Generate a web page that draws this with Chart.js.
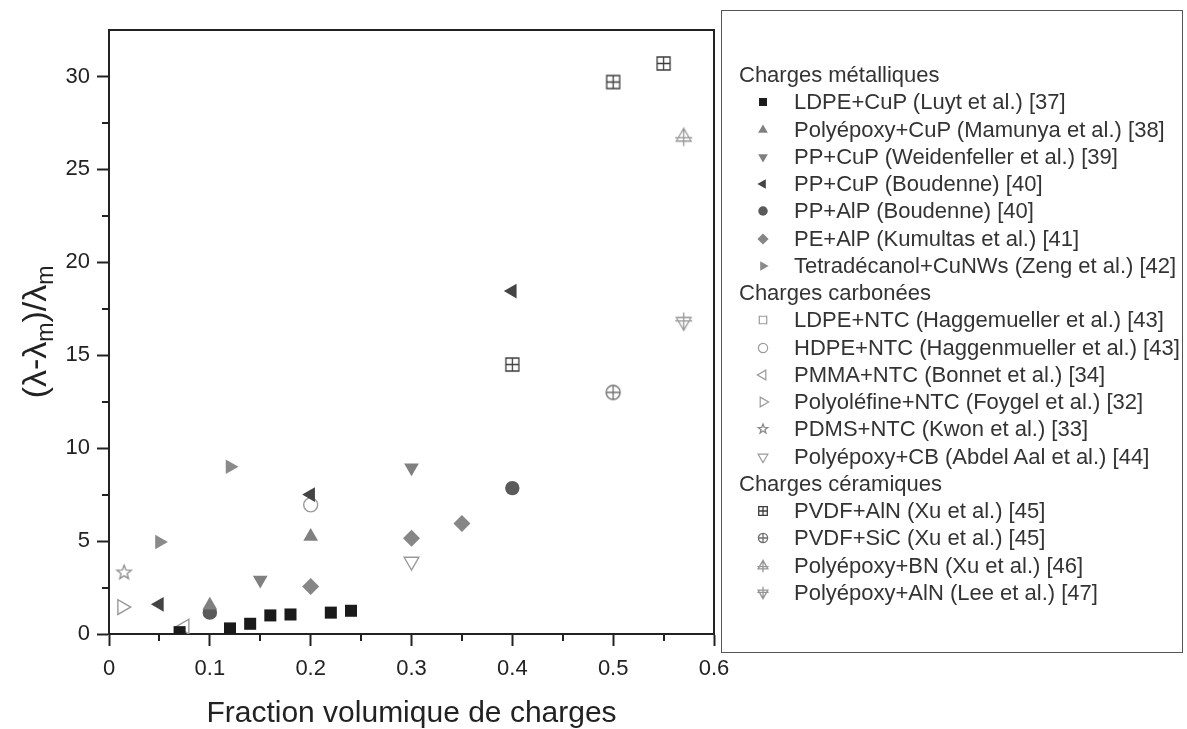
<!DOCTYPE html>
<html>
<head>
<meta charset="utf-8">
<script src="https://cdn.jsdelivr.net/npm/chart.js@4.4.0/dist/chart.umd.min.js"></script>
<style>
    html, body { margin: 0; padding: 0; background: #fff; }
    #wrap { position: relative; width: 1187px; height: 729px; overflow: hidden; }
    #chart { position: absolute; left: 0; top: 0; }
    #legend {
        position: absolute; left: 721px; top: 10px; width: 462px; height: 643px;
        box-sizing: border-box; border: 1.5px solid #555;
        font-family: "Liberation Sans", Arial, sans-serif; font-size: 22px; color: #333;
        padding-top: 50px;
    }
    .row { position: relative; height: 27.26px; line-height: 27.26px; white-space: nowrap; }
    .row.head { padding-left: 17px; }
    .row canvas { position: absolute; left: 30px; top: 3px; }
    .row .lbl { position: absolute; left: 72px; }
</style>
</head>
<body>
<div id="wrap">
    <canvas id="chart" width="1187" height="729"></canvas>
    <div id="legend"></div>
</div>
<script>
// ---- axes / ticks ----
const xMin = 0, xMax = 0.6, xStep = 0.1;
const yMin = 0, yMax = 32.5, yStep = 5;
const xMinorTicks = [0.05, 0.15, 0.25, 0.35, 0.45, 0.55];
const yMinorTicks = [2.5, 7.5, 12.5, 17.5, 22.5, 27.5];
const xTitle = 'Fraction volumique de charges';

// ---- groups ----
const groupTitles = ['Charges métalliques', 'Charges carbonées', 'Charges céramiques'];

// ---- series (x = fraction volumique, y = (λ-λm)/λm) ----
const luytX = [0.07, 0.12, 0.14, 0.16, 0.18, 0.22, 0.24];
const luytY = [0.1, 0.3, 0.55, 1.0, 1.05, 1.15, 1.25];
const mamunyaX = [0.1, 0.2];
const mamunyaY = [1.55, 5.25];
const weidenfellerX = [0.15, 0.3];
const weidenfellerY = [2.9, 8.95];
const boudenneCuX = [0.05, 0.2, 0.4];
const boudenneCuY = [1.6, 7.5, 18.45];
const boudenneAlX = [0.1, 0.4];
const boudenneAlY = [1.15, 7.85];
const kumultasX = [0.2, 0.3, 0.35];
const kumultasY = [2.55, 5.15, 5.95];
const zengX = [0.05, 0.12];
const zengY = [4.95, 9.0];
const haggLdpeX = [];
const haggLdpeY = [];
const haggHdpeX = [0.2];
const haggHdpeY = [6.95];
const bonnetX = [0.075];
const bonnetY = [0.4];
const foygelX = [0.013];
const foygelY = [1.45];
const kwonX = [0.015];
const kwonY = [3.3];
const abdelX = [0.3];
const abdelY = [3.9];
const xuAlnX = [0.4, 0.5, 0.55];
const xuAlnY = [14.5, 29.7, 30.7];
const xuSicX = [0.5];
const xuSicY = [13.0];
const xuBnX = [0.57];
const xuBnY = [26.75];
const leeX = [0.57];
const leeY = [16.8];

const seriesLabels = [
    'LDPE+CuP (Luyt et al.) [37]',
    'Polyépoxy+CuP (Mamunya et al.) [38]',
    'PP+CuP (Weidenfeller et al.) [39]',
    'PP+CuP (Boudenne) [40]',
    'PP+AlP (Boudenne) [40]',
    'PE+AlP (Kumultas et al.) [41]',
    'Tetradécanol+CuNWs (Zeng et al.) [42]',
    'LDPE+NTC (Haggemueller et al.) [43]',
    'HDPE+NTC (Haggenmueller et al.) [43]',
    'PMMA+NTC (Bonnet et al.) [34]',
    'Polyoléfine+NTC (Foygel et al.) [32]',
    'PDMS+NTC (Kwon et al.) [33]',
    'Polyépoxy+CB (Abdel Aal et al.) [44]',
    'PVDF+AlN (Xu et al.) [45]',
    'PVDF+SiC (Xu et al.) [45]',
    'Polyépoxy+BN (Xu et al.) [46]',
    'Polyépoxy+AlN (Lee et al.) [47]'
];
const seriesX = [luytX, mamunyaX, weidenfellerX, boudenneCuX, boudenneAlX, kumultasX, zengX,
    haggLdpeX, haggHdpeX, bonnetX, foygelX, kwonX, abdelX, xuAlnX, xuSicX, xuBnX, leeX];
const seriesY = [luytY, mamunyaY, weidenfellerY, boudenneCuY, boudenneAlY, kumultasY, zengY,
    haggLdpeY, haggHdpeY, bonnetY, foygelY, kwonY, abdelY, xuAlnY, xuSicY, xuBnY, leeY];
const seriesGroup = [0, 0, 0, 0, 0, 0, 0, 1, 1, 1, 1, 1, 1, 2, 2, 2, 2];

// ---- styles: [forme, rotation, couleur, rempli, rayon] ----
const seriesStyle = [
    ['rect', 0, '#1a1a1a', true, 8.5],
    ['triangle', 0, '#808080', true, 8.5],
    ['triangle', 180, '#808080', true, 8.5],
    ['triangle', -90, '#444444', true, 8.5],
    ['circle', 0, '#5a5a5a', true, 7.2],
    ['rectRot', 0, '#868686', true, 8.5],
    ['triangle', 90, '#8a8a8a', true, 8.5],
    ['rect', 0, '#9a9a9a', false, 8],
    ['circle', 0, '#9a9a9a', false, 7],
    ['triangle', -90, '#9a9a9a', false, 8.5],
    ['triangle', 90, '#9a9a9a', false, 8.5],
    ['star5', 0, '#8a8a8a', false, 7.5],
    ['triangle', 180, '#9a9a9a', false, 8.5],
    ['squareCross', 0, '#3c3c3c', false, 6.5],
    ['circleCross', 0, '#707070', false, 7],
    ['triUpCross', 0, '#959595', false, 8.5],
    ['triDownCross', 0, '#959595', false, 8.5]
];

const FONT = '"Liberation Sans", Arial, sans-serif';

// Dessin des symboles qui n'existent pas dans Chart.js
function drawCustom(ctx, kind, cx, cy, r, color) {
    ctx.strokeStyle = color;
    ctx.lineWidth = 1.3;
    ctx.beginPath();
    if (kind === 'star5') {
        for (let i = 0; i < 10; i++) {
            const rr = i % 2 ? r * 0.42 : r;
            const a = -Math.PI / 2 + i * Math.PI / 5;
            const px = cx + rr * Math.cos(a), py = cy + rr * Math.sin(a);
            i ? ctx.lineTo(px, py) : ctx.moveTo(px, py);
        }
        ctx.closePath();
    } else if (kind === 'squareCross') {
        ctx.rect(cx - r, cy - r, 2 * r, 2 * r);
        ctx.moveTo(cx - r, cy); ctx.lineTo(cx + r, cy);
        ctx.moveTo(cx, cy - r); ctx.lineTo(cx, cy + r);
    } else if (kind === 'circleCross') {
        ctx.arc(cx, cy, r, 0, Math.PI * 2);
        ctx.moveTo(cx - r, cy); ctx.lineTo(cx + r, cy);
        ctx.moveTo(cx, cy - r); ctx.lineTo(cx, cy + r);
    } else if (kind === 'triUpCross' || kind === 'triDownCross') {
        const s = kind === 'triUpCross' ? 1 : -1;
        const h = r * 0.87;
        ctx.moveTo(cx, cy - s * r);
        ctx.lineTo(cx + h, cy + s * r * 0.5);
        ctx.lineTo(cx - h, cy + s * r * 0.5);
        ctx.closePath();
        ctx.moveTo(cx - r, cy + s * r * 0.1); ctx.lineTo(cx + r, cy + s * r * 0.1);
        ctx.moveTo(cx, cy - s * r * 1.1); ctx.lineTo(cx, cy + s * r * 1.1);
    }
    ctx.stroke();
}

function makeMarker(kind, r, color) {
    const c = document.createElement('canvas');
    const size = Math.ceil(r * 2 + 6);
    c.width = size; c.height = size;
    drawCustom(c.getContext('2d'), kind, size / 2, size / 2, r, color);
    return c;
}

const isCustom = k => ['star5', 'squareCross', 'circleCross', 'triUpCross', 'triDownCross'].includes(k);

const datasets = seriesLabels.map((label, i) => {
    const [kind, rot, color, filled, r] = seriesStyle[i];
    return {
        label: label,
        data: seriesX[i].map((x, j) => ({ x: x, y: seriesY[i][j] })),
        pointStyle: isCustom(kind) ? makeMarker(kind, r, color) : kind,
        rotation: rot,
        pointRadius: r,
        pointHoverRadius: r,
        backgroundColor: filled ? color : 'rgba(255,255,255,0)',
        borderColor: color,
        borderWidth: filled ? 0 : 1.4,
        showLine: false
    };
});

// Cadre haut/droite, petites graduations et titre de l'axe Y
const framePlugin = {
    id: 'frame',
    afterDraw(chart) {
        const { ctx, chartArea } = chart;
        const xs = chart.scales.x, ys = chart.scales.y;
        ctx.save();
        ctx.strokeStyle = '#222';
        ctx.lineWidth = 2;
        ctx.beginPath();
        ctx.moveTo(chartArea.left - 1, chartArea.top);
        ctx.lineTo(chartArea.right, chartArea.top);
        ctx.lineTo(chartArea.right, chartArea.bottom);
        ctx.stroke();

        ctx.beginPath();
        xMinorTicks.forEach(v => {
            const px = Math.round(xs.getPixelForValue(v));
            ctx.moveTo(px, chartArea.bottom);
            ctx.lineTo(px, chartArea.bottom + 7);
        });
        yMinorTicks.forEach(v => {
            const py = Math.round(ys.getPixelForValue(v));
            ctx.moveTo(chartArea.left, py);
            ctx.lineTo(chartArea.left - 7, py);
        });
        ctx.stroke();

        // (λ-λm)/λm
        const parts = [['(λ-λ', 0], ['m', 1], [')/λ', 0], ['m', 1]];
        const big = '34px ' + FONT, small = '23px ' + FONT;
        let total = 0;
        parts.forEach(p => { ctx.font = p[1] ? small : big; total += ctx.measureText(p[0]).width; });
        ctx.translate(46, (chartArea.top + chartArea.bottom) / 2);
        ctx.rotate(-Math.PI / 2);
        ctx.fillStyle = '#222';
        ctx.textBaseline = 'alphabetic';
        let x = -total / 2;
        parts.forEach(p => {
            ctx.font = p[1] ? small : big;
            ctx.fillText(p[0], x, p[1] ? 7 : 0);
            x += ctx.measureText(p[0]).width;
        });
        ctx.restore();
    }
};

new Chart(document.getElementById('chart'), {
    type: 'scatter',
    data: { datasets: datasets },
    options: {
        responsive: false,
        animation: false,
        devicePixelRatio: 1,
        layout: { padding: { left: 0, top: 30, right: 1187 - 714, bottom: 0 } },
        plugins: { legend: { display: false }, tooltip: { enabled: false } },
        scales: {
            x: {
                type: 'linear', min: xMin, max: xMax,
                border: { color: '#222', width: 2 },
                grid: { drawOnChartArea: false, drawTicks: true, tickLength: 12, tickWidth: 2, tickColor: '#222' },
                ticks: { stepSize: xStep, includeBounds: false, padding: 10, color: '#222',
                         font: { family: FONT, size: 22 }, maxRotation: 0 },
                title: { display: true, text: xTitle, color: '#222',
                         font: { family: FONT, size: 30, lineHeight: 1 }, padding: { top: 0, bottom: 0 } },
                afterFit(s) { s.height = 95; s.paddingLeft = 0; s.paddingRight = 0; }
            },
            y: {
                type: 'linear', min: yMin, max: yMax,
                border: { color: '#222', width: 2 },
                grid: { drawOnChartArea: false, drawTicks: true, tickLength: 12, tickWidth: 2, tickColor: '#222' },
                ticks: { stepSize: yStep, includeBounds: false, padding: 7, color: '#222',
                         font: { family: FONT, size: 22 } },
                afterFit(s) { s.width = 109; s.paddingTop = 0; s.paddingBottom = 0; }
            }
        }
    },
    plugins: [framePlugin]
});

// ---- légende HTML ----
function legendMarker(i) {
    const [kind, rot, color, filled, r] = seriesStyle[i];
    const c = document.createElement('canvas');
    c.width = 22; c.height = 22;
    const ctx = c.getContext('2d');
    const rr = r * 0.66;
    if (isCustom(kind)) {
        drawCustom(ctx, kind, 11, 11, rr, color);
    } else if (Chart.helpers && Chart.helpers.drawPoint) {
        ctx.fillStyle = filled ? color : 'rgba(255,255,255,0)';
        ctx.strokeStyle = color;
        ctx.lineWidth = filled ? 0 : 1.2;
        Chart.helpers.drawPoint(ctx, { pointStyle: kind, rotation: rot, radius: rr, borderWidth: filled ? 0 : 1.2 }, 11, 11);
    }
    return c;
}

const legend = document.getElementById('legend');
let lastGroup = -1;
seriesLabels.forEach((label, i) => {
    if (seriesGroup[i] !== lastGroup) {
        lastGroup = seriesGroup[i];
        const h = document.createElement('div');
        h.className = 'row head';
        h.textContent = groupTitles[lastGroup];
        legend.appendChild(h);
    }
    const row = document.createElement('div');
    row.className = 'row';
    row.appendChild(legendMarker(i));
    const span = document.createElement('span');
    span.className = 'lbl';
    span.textContent = label;
    row.appendChild(span);
    legend.appendChild(row);
});
</script>
</body>
</html>
